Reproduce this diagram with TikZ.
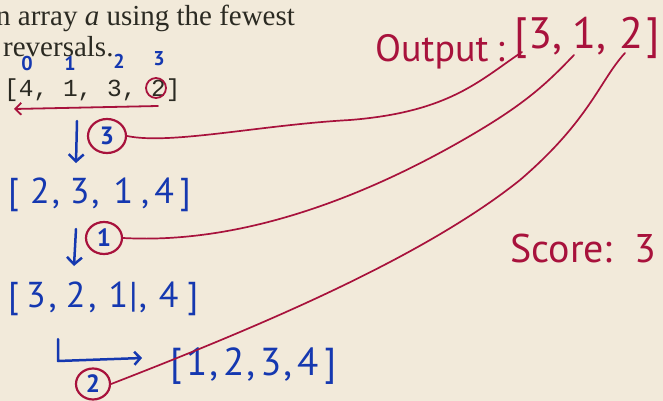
\documentclass[tikz,border=0pt]{standalone}
\usepackage{fontspec}
\setmainfont{Liberation Serif}
\setmonofont{Liberation Mono}
\newfontfamily\hand{PT Sans}
\usetikzlibrary{arrows.meta,shapes.geometric}
\definecolor{bg}{HTML}{F2EADA}
\definecolor{ink}{HTML}{1538B0}
\definecolor{pen}{HTML}{A8123C}
\definecolor{txt}{HTML}{2B2A22}
\tikzset{
  printed/.style={anchor=base west, inner sep=0, text=txt, font=\fontsize{29}{30}\selectfont},
  bluehand/.style={anchor=base west, inner sep=0, text=ink, font=\hand\fontsize{36}{36}\selectfont},
  redhand/.style={anchor=base west, inner sep=0, text=pen, font=\hand\fontsize{42}{42}\selectfont},
  idx/.style={inner sep=0, text=ink, font=\hand\bfseries\fontsize{20}{20}\selectfont},
  circ/.style={ellipse, draw=pen, line width=2.2pt, text=ink, inner sep=0, font=\hand\bfseries\fontsize{25}{25}\selectfont},
  link/.style={draw=pen, line width=1.7pt},
  bluearrow/.style={draw=ink, line width=2.5pt, -{Straight Barb[length=7pt,width=15pt]}},
}
\begin{document}
\begin{tikzpicture}[x=1pt,y=-1pt,line cap=round,line join=round]
\fill[bg] (0,0) rectangle (663,401);
\useasboundingbox (0,0) rectangle (663,401);
% printed text
\node[printed] (l1) at (-4,26) {n array \textit{a} using the fewest};
\node[printed] (l2) at (3,57) {reversals.};
\node[anchor=base west, inner sep=0, text=txt, font=\ttfamily\fontsize{24.5}{25}\selectfont] (arr) at (4,97) {[4, 1, 3, 2]};
% indices
\node[idx] (i0) at (27,64) {0};
\node[idx] (i1) at (70,63) {1};
\node[idx] (i2) at (119,61) {2};
\node[idx] (i3) at (159,59) {3};
% red mark on array
\node[circle, draw=pen, line width=1.8pt, minimum size=20pt, inner sep=0] (m2) at (156,88) {};
\coordinate (ra) at (158,106);
\coordinate (rb) at (14,109);
\draw[pen, line width=1.8pt, -{Straight Barb[length=6pt,width=12pt]}] (ra) -- (rb);
% step 1
\coordinate (d1a) at (77,121);
\coordinate (d1b) at (76,163);
\draw[bluearrow] (d1a) -- (d1b);
\node[circ, minimum width=38pt, minimum height=34pt] (c3) at (107,136) {3};
\node[bluehand] (s1) at (8,203) {[\hspace{11pt}2\hspace{2pt},\hspace{10pt}3\hspace{2pt},\hspace{14pt}1\hspace{8pt},\hspace{5pt}4\hspace{6pt}]};
% step 2
\coordinate (d2a) at (76,229);
\coordinate (d2b) at (74,266);
\draw[bluearrow] (d2a) -- (d2b);
\node[circ, minimum width=36pt, minimum height=32pt] (c1) at (104,238) {1};
\node[bluehand] (s2) at (8,307) {[\hspace{7pt}3\hspace{3pt},\hspace{9pt}2\hspace{3pt},\hspace{12pt}1\kern1pt|\hspace{1pt},\hspace{12pt}4\hspace{9pt}]};
% step 3
\coordinate (la) at (58,339);
\coordinate (lb) at (58,361);
\coordinate (lc) at (142,358);
\draw[ink, line width=2.5pt, -{Straight Barb[length=6pt,width=13pt]}] (la) -- (lb) -- (lc);
\node[bluehand, font=\hand\fontsize{39}{39}\selectfont] (s3) at (170,375) {[\hspace{4pt}1\hspace{2pt},\hspace{5pt}2\hspace{2pt},\hspace{5pt}3\hspace{2pt},\hspace{5pt}4\hspace{6pt}]};
\node[circ, minimum width=34pt, minimum height=31pt] (c2) at (93,384) {2};
% output
\node[redhand] (out) at (375,62) {\fontsize{38}{38}\selectfont Output\hspace{8pt}:\hspace{10pt}\raisebox{13pt}{\fontsize{44}{44}\selectfont[3,\hspace{10pt}1,\hspace{14pt}2\hspace{3pt}]}};
\coordinate (e3) at (522,52);
\coordinate (e1) at (574,55);
\coordinate (e2) at (625,53);
\node[redhand, font=\hand\fontsize{40}{40}\selectfont] (score) at (510,262) {Score:\hspace{22pt}3};
% links
\draw[link] (c3.east) .. controls (170,145) and (260,125) .. (350,120) .. controls (450,112) and (480,80) .. (e3);
\draw[link] (c1.east) .. controls (250,245) and (380,190) .. (480,130) .. controls (530,100) and (550,80) .. (e1);
\draw[link] (c2.east) .. controls (250,330) and (420,260) .. (520,180) .. controls (590,120) and (600,80) .. (e2);
\end{tikzpicture}
\end{document}
